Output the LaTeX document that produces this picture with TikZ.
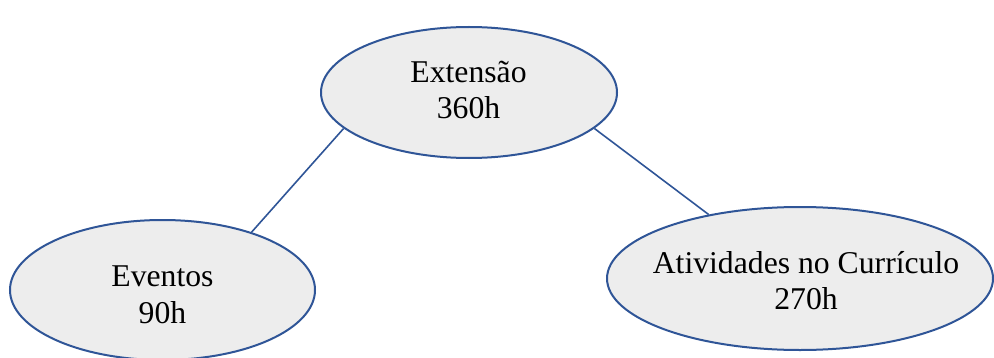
\documentclass[tikz,border=0pt]{standalone}
\usepackage{fontspec}
\setmainfont{Liberation Serif}
\usetikzlibrary{shapes.geometric}
\definecolor{bordablue}{HTML}{2F5597}
\definecolor{fundogray}{HTML}{EDEDED}

\begin{document}
\begin{tikzpicture}[x=0.5pt,y=-0.5pt,
		bolha/.style={ellipse,draw=bordablue,fill=fundogray,line width=1pt,inner sep=0pt},
		texto/.style={align=center,inner sep=0pt,font=\fontsize{15.85}{18.3}\selectfont},
		ligacao/.style={draw=bordablue,line width=0.8pt}]
		\useasboundingbox (0,0) rectangle (994,358);
		
		\node[bolha,minimum width=148pt,minimum height=65.5pt] (ext) at (469,92.5) {};
		\node[bolha,minimum width=152.5pt,minimum height=70pt] (evt) at (162.5,290) {};
		\node[bolha,minimum width=193pt,minimum height=71.5pt] (atv) at (800,278.5) {};
		
		\node[texto] (extT) at (468.5,90) {Extensão\\360h};
		\node[texto] (evtT) at (162.5,294.5) {Eventos\\90h};
		\node[texto] (atvT) at (806,280.5) {Atividades no Currículo\\270h};
		
		\draw[ligacao] (ext.196.4) -- (evt.33);
		\draw[ligacao] (ext.344.8) -- (atv.145.7);
\end{tikzpicture}
\end{document}
